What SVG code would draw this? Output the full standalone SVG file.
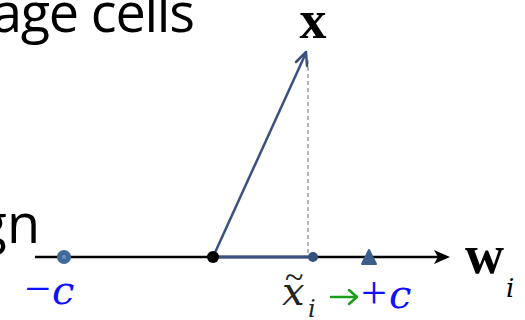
<svg xmlns="http://www.w3.org/2000/svg" width="525" height="320" viewBox="0 0 525 320">
<defs>
<style>
.body{font-family:"Open Sans","Liberation Sans",sans-serif;font-size:54px;fill:#000}
.math{font-family:"Liberation Serif","DejaVu Serif",serif}
.it{font-family:"DejaVu Serif","Liberation Serif",serif;font-style:italic}
.blue{fill:#1010ff}
</style>
</defs>
<rect width="525" height="320" fill="#fff"/>
<text class="body" x="-8" y="32" textLength="203">age cells</text>
<text class="body" x="40" y="243" text-anchor="end">gn</text>
<g id="connectors">
<line x1="35" y1="257" x2="446" y2="257" stroke="#000" stroke-width="2.5"/>
<path d="M450,257 L434,250 L438,257 L434,264 Z" fill="#000"/>
<line x1="308" y1="60" x2="308" y2="257" stroke="#888" stroke-width="1.2" stroke-dasharray="4,3"/>
<line x1="213" y1="257" x2="313" y2="257" stroke="#3a5180" stroke-width="3"/>
<line x1="213" y1="257" x2="305" y2="55" stroke="#3a5180" stroke-width="2.5"/>
<path d="M296,62 L306,52 L307,66" fill="none" stroke="#3a5180" stroke-width="2.5" stroke-linejoin="round" stroke-linecap="round"/>
<path d="M331,297 L356,297 M349,290 L357,297 L349,304" fill="none" stroke="#1a9e1a" stroke-width="2.5" stroke-linecap="round" stroke-linejoin="round"/>
</g>
<g id="node-minus-c">
<circle cx="64" cy="257" r="7" fill="#3f6a9a"/>
<circle cx="64" cy="257" r="2" fill="#6a94c2"/>
<text class="math blue" x="25" y="304" font-size="46">−<tspan class="it" font-size="40" dx="1">c</tspan></text>
</g>
<g id="node-origin">
<circle cx="213" cy="257" r="6" fill="#000"/>
</g>
<g id="node-xtilde">
<circle cx="313" cy="257" r="5" fill="#34507c"/>
<text class="it" x="282" y="305" font-size="40" fill="#222">x</text>
<text class="math" x="285" y="288" font-size="34" fill="#222" textLength="20">~</text>
<text class="it" x="308" y="317" font-size="24" fill="#222">i</text>
</g>
<g id="node-plus-c">
<path d="M369,250 L376,264 L362,264 Z" fill="#3c5f8e" stroke="#3c5f8e" stroke-width="2" stroke-linejoin="round"/>
<text class="math blue" x="361" y="308" font-size="46">+<tspan class="it" font-size="40" dx="2">c</tspan></text>
</g>
<g id="node-x">
<text class="math" x="313" y="38" font-size="54" font-weight="bold" text-anchor="middle" fill="#000">x</text>
</g>
<g id="node-w">
<text class="math" x="465" y="273" font-size="54" font-weight="bold" fill="#000">w</text>
<text class="it" x="506" y="297" font-size="26" fill="#000">i</text>
</g>
</svg>
